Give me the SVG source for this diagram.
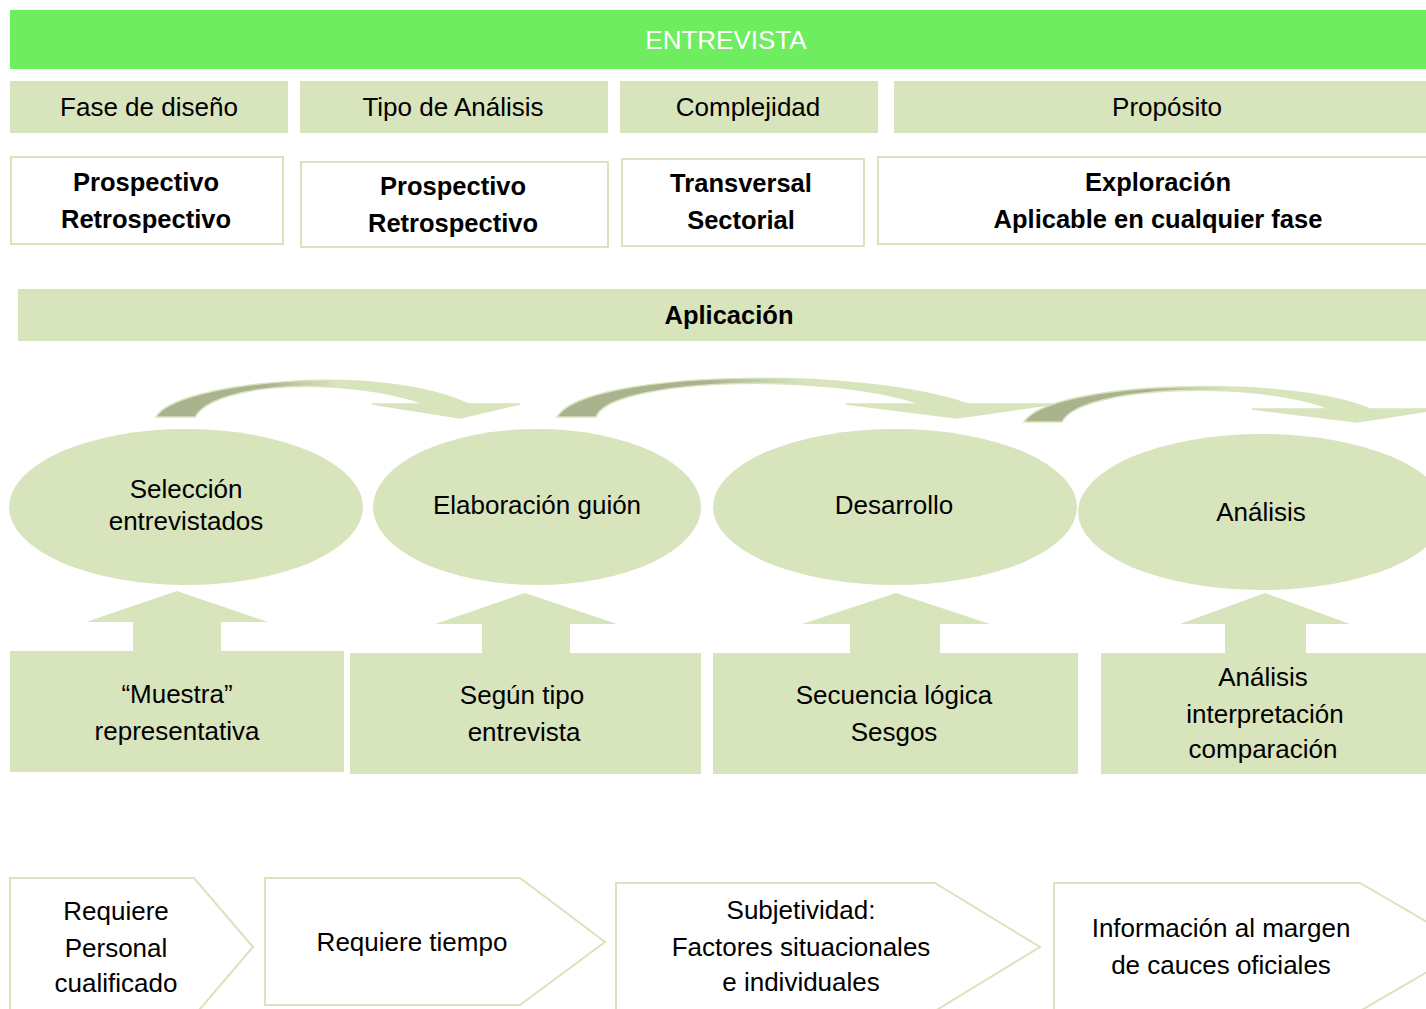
<svg xmlns="http://www.w3.org/2000/svg" width="1426" height="1009" viewBox="0 0 1426 1009">
<style>
text{font-family:"Liberation Sans",Arial,sans-serif;font-size:26px;fill:#000;text-anchor:middle;dominant-baseline:central}
.b{font-weight:bold;font-size:25.5px}
.hdr{fill:#d8e4bc}
.wbox{fill:#fff;stroke:#d8e4bc;stroke-width:2}
.ell{fill:#d8e4bc}
.arrowbox{fill:#d8e4bc}
.pent{fill:#fff;stroke:#d8e4bc;stroke-width:2}
.curv{stroke:#d8e4bc;stroke-width:1.5}
</style>
<defs>
<linearGradient id="cg" x1="0" y1="0" x2="1" y2="0">
<stop offset="0" stop-color="#a9b48f"/>
<stop offset="0.3" stop-color="#a9b48f"/>
<stop offset="0.5" stop-color="#d8e4bc"/>
<stop offset="1" stop-color="#d8e4bc"/>
</linearGradient>
</defs>

<g id="banner">
<rect x="10" y="10" width="1416" height="59" fill="#6ded5f"/>
<text x="726" y="40" style="fill:#fff;font-size:26px">ENTREVISTA</text>
</g>

<g id="h1"><rect class="hdr" x="10" y="81" width="278" height="52"/><text x="149" y="107">Fase de diseño</text></g>
<g id="h2"><rect class="hdr" x="300" y="81" width="308" height="52"/><text x="453" y="107">Tipo de Análisis</text></g>
<g id="h3"><rect class="hdr" x="620" y="81" width="258" height="52"/><text x="748" y="107">Complejidad</text></g>
<g id="h4"><rect class="hdr" x="894" y="81" width="540" height="52"/><text x="1167" y="107">Propósito</text></g>

<g id="v1"><rect class="wbox" x="11" y="157" width="272" height="87"/><text class="b" x="146" y="182">Prospectivo</text><text class="b" x="146" y="219">Retrospectivo</text></g>
<g id="v2"><rect class="wbox" x="301" y="162" width="307" height="85"/><text class="b" x="453" y="186">Prospectivo</text><text class="b" x="453" y="223">Retrospectivo</text></g>
<g id="v3"><rect class="wbox" x="622" y="159" width="242" height="87"/><text class="b" x="741" y="183">Transversal</text><text class="b" x="741" y="220">Sectorial</text></g>
<g id="v4"><rect class="wbox" x="878" y="157" width="560" height="87"/><text class="b" x="1158" y="182">Exploración</text><text class="b" x="1158" y="219">Aplicable en cualquier fase</text></g>

<g id="aplicacion"><rect class="hdr" x="18" y="289" width="1416" height="52"/><text class="b" x="729" y="315">Aplicación</text></g>

<g id="connectors">
<path class="curv" fill="url(#cg)" d="M156,417 C175,382 380,362 468,404 L520,404 L460,418 L372,404 L425,404 C345,376 215,382 195,417 Z"/>
<path class="curv" fill="url(#cg)" d="M557,417 C585,370 860,366 968,404 L1055,404 L957,418 L846,404 L920,404 C830,372 610,378 596,417 Z"/>
<path class="curv" fill="url(#cg)" d="M1024,422 C1050,380 1290,375 1370,409 L1440,409 L1357,422 L1252,409 L1330,409 C1260,380 1080,385 1062,422 Z"/>
<polygon class="arrowbox" points="177,591 268,622 221,622 221,652 133,652 133,622 86,622"/>
<polygon class="arrowbox" points="525,593 617,624 570,624 570,654 482,654 482,624 435,624"/>
<polygon class="arrowbox" points="896,593 990,624 940,624 940,654 850,654 850,624 802,624"/>
<polygon class="arrowbox" points="1265,593 1350,624 1306,624 1306,654 1225,654 1225,624 1180,624"/>
</g>

<g id="e1"><ellipse class="ell" cx="186" cy="507" rx="177" ry="78"/><text x="186" y="489">Selección</text><text x="186" y="521">entrevistados</text></g>
<g id="e2"><ellipse class="ell" cx="537" cy="507" rx="164" ry="78"/><text x="537" y="505">Elaboración guión</text></g>
<g id="e3"><ellipse class="ell" cx="895" cy="507" rx="182" ry="78"/><text x="894" y="505">Desarrollo</text></g>
<g id="e4"><ellipse class="ell" cx="1262" cy="512" rx="184" ry="78"/><text x="1261" y="512">Análisis</text></g>

<g id="r1"><rect class="arrowbox" x="10" y="651" width="334" height="121"/><text x="177" y="694">“Muestra”</text><text x="177" y="731">representativa</text></g>
<g id="r2"><rect class="arrowbox" x="350" y="653" width="351" height="121"/><text x="522" y="695">Según tipo</text><text x="524" y="732">entrevista</text></g>
<g id="r3"><rect class="arrowbox" x="713" y="653" width="365" height="121"/><text x="894" y="695">Secuencia lógica</text><text x="894" y="732">Sesgos</text></g>
<g id="r4"><rect class="arrowbox" x="1101" y="653" width="340" height="121"/><text x="1263" y="677">Análisis</text><text x="1265" y="714">interpretación</text><text x="1263" y="749">comparación</text></g>

<g id="p1"><polygon class="pent" points="10,878 194,878 253,947 194,1016 10,1016"/><text x="116" y="911">Requiere</text><text x="116" y="948">Personal</text><text x="116" y="983">cualificado</text></g>
<g id="p2"><polygon class="pent" points="265,878 520,878 605,942 520,1005 265,1005"/><text x="412" y="942">Requiere tiempo</text></g>
<g id="p3"><polygon class="pent" points="616,883 935,883 1040,947 935,1011 616,1011"/><text x="801" y="910">Subjetividad:</text><text x="801" y="947">Factores situacionales</text><text x="801" y="982">e individuales</text></g>
<g id="p4"><polygon class="pent" points="1054,883 1360,883 1470,947 1360,1011 1054,1011"/><text x="1221" y="928">Información al margen</text><text x="1221" y="965">de cauces oficiales</text></g>
</svg>
